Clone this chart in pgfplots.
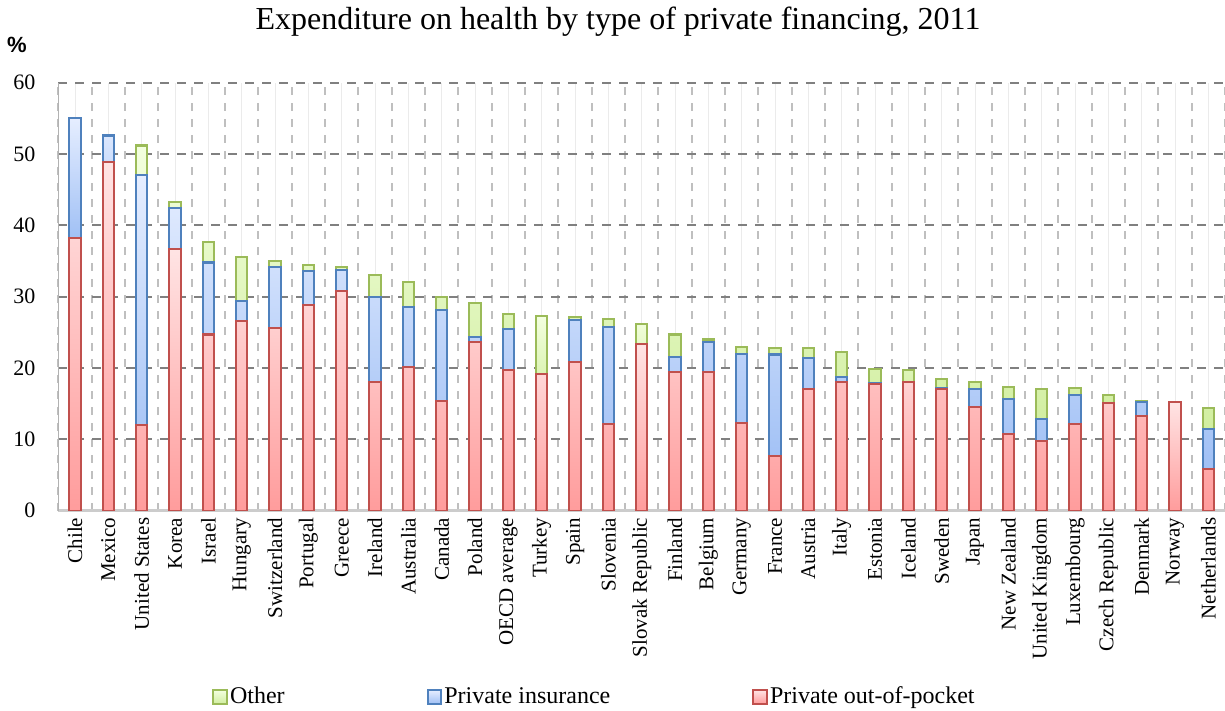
\documentclass[border=0pt]{standalone}
\usepackage{fontspec}
\setmainfont{Liberation Serif}
\newfontfamily\arialfont{Liberation Sans}
\usepackage{pgfplots}
\pgfplotsset{compat=1.18}

\definecolor{oopline}{HTML}{C0504D}
\definecolor{ooptop}{HTML}{FFE4E4}
\definecolor{oopbot}{HTML}{FF9C9C}
\definecolor{insline}{HTML}{4F81BD}
\definecolor{instop}{HTML}{E6EEFF}
\definecolor{insbot}{HTML}{A0C0F5}
\definecolor{othline}{HTML}{9BBB59}
\definecolor{othtop}{HTML}{F3FFDF}
\definecolor{othbot}{HTML}{D1EEA0}

\pgfplotsset{
  oop/.style={draw=oopline, top color=ooptop, bottom color=oopbot, line width=1.05pt},
  ins/.style={draw=insline, top color=instop, bottom color=insbot, line width=1.05pt},
  oth/.style={draw=othline, top color=othtop, bottom color=othbot, line width=1.05pt},
  frame/.style={
    at={(29.2pt,100.15pt)}, anchor=south west,
    scale only axis, width=583.3pt, height=214pt,
    ybar stacked, bar width=5.7pt,
    xmin=-0.5, xmax=34.5, ymin=0, ymax=60,
  },
}

\begin{document}
\begin{tikzpicture}
\path[use as bounding box] (0,0) rectangle (612.5pt,355.5pt);

\node[font=\fontsize{16}{18}\selectfont] at (309pt,344.5pt)
  {Expenditure on health by type of private financing, 2011};
\node[font=\arialfont\bfseries\fontsize{11}{13}\selectfont] at (8.5pt,333pt) {\%};

\begin{axis}[
  frame,
  xtick={0,...,34},
  xticklabels={Chile,Mexico,United States,Korea,Israel,Hungary,Switzerland,Portugal,Greece,Ireland,Australia,Canada,Poland,OECD average,Turkey,Spain,Slovenia,Slovak Republic,Finland,Belgium,Germany,France,Austria,Italy,Estonia,Iceland,Sweden,Japan,New Zealand,United Kingdom,Luxembourg,Czech Republic,Denmark,Norway,Netherlands},
  minor xtick={-0.5,0.5,...,34.5},
  ytick={0,10,...,60},
  major tick length=0pt, minor tick length=0pt,
  axis x line*=bottom, axis y line*=left,
  x axis line style={-, draw=black!20, line width=1.3pt},
  y axis line style={-, draw=black!30, line width=0.7pt},
  ymajorgrids, xmajorgrids, xminorgrids,
  major y grid style={draw=black!50, dash pattern=on 4.5pt off 4pt, line width=1pt},
  major x grid style={draw=black!8, line width=0.5pt},
  minor x grid style={draw=black!25, dash pattern=on 4pt off 4pt, line width=1pt},
  tick label style={font=\fontsize{10.5}{12}\selectfont},
  yticklabel style={font=\fontsize{11}{13}\selectfont, xshift=-8pt},
  /pgf/number format/assume math mode=true,
  xticklabel style={rotate=90, anchor=east},
  legend image code/.code={\draw[#1] (0pt,-3.4pt) rectangle (6.8pt,3.4pt);},
  reverse legend,
  legend style={
    at={(0.4595,-0.435)}, anchor=center, draw=none,
    font=\fontsize{12}{14}\selectfont, legend columns=3,
    nodes={inner xsep=1pt, inner ysep=1pt},
    /tikz/every even column/.append style={column sep=70pt},
  },
]
% countries holding all three kinds of private financing
\addplot[oop] coordinates {
  (2,12.0) (3,36.7) (4,24.7) (5,26.6) (6,25.6) (7,28.8) (8,30.8) (9,18.1)
  (10,20.2) (11,15.4) (12,23.7) (13,19.7) (15,20.8) (16,12.2) (18,19.4)
  (19,19.4) (20,12.3) (21,7.7) (22,17.0) (23,18.0) (24,17.7) (26,17.0)
  (27,14.5) (28,10.8) (29,9.8) (30,12.1) (32,13.3) (34,5.8)};
\addlegendentry{Private out-of-pocket}
\addplot[ins] coordinates {
  (2,35.1) (3,5.7) (4,10.1) (5,2.8) (6,8.6) (7,4.8) (8,2.9) (9,11.8)
  (10,8.3) (11,12.7) (12,0.6) (13,5.8) (15,5.9) (16,13.5) (18,2.1)
  (19,4.3) (20,9.7) (21,14.2) (22,4.4) (23,0.7) (24,0.2) (26,0.2)
  (27,2.5) (28,4.8) (29,3.1) (30,4.1) (32,1.9) (34,5.6)};
\addlegendentry{Private insurance}
\addplot[oth] coordinates {
  (2,4.1) (3,0.9) (4,2.9) (5,6.2) (6,0.8) (7,0.9) (8,0.5) (9,3.1)
  (10,3.5) (11,1.9) (12,4.8) (13,2.1) (15,0.4) (16,1.2) (18,3.2)
  (19,0.3) (20,0.9) (21,0.9) (22,1.4) (23,3.5) (24,2.0) (26,1.3)
  (27,1.0) (28,1.7) (29,4.2) (30,1.0) (32,0.2) (34,3.0)};
\addlegendentry{Other}
\end{axis}

% no "other" financing
\begin{axis}[frame, hide axis]
\addplot[oop] coordinates {(0,38.2) (1,48.9)};
\addplot[ins] coordinates {(0,16.9) (1,3.7)};
\end{axis}

% no private insurance
\begin{axis}[frame, hide axis]
\addplot[oop] coordinates {(14,19.1) (17,23.4) (25,18.1) (31,15.1)};
\addplot[oth] coordinates {(14,8.2) (17,2.8) (25,1.6) (31,1.1)};
\end{axis}

% out-of-pocket only
\begin{axis}[frame, hide axis]
\addplot[oop] coordinates {(33,15.2)};
\end{axis}
\end{tikzpicture}
\end{document}
